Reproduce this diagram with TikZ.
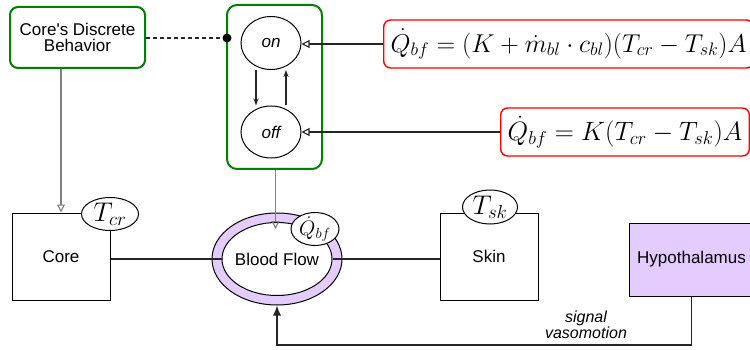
\RequirePackage{fix-cm}
\documentclass[tikz,border=0pt]{standalone}
\usepackage{fontspec}
\setmainfont{Liberation Sans}
\usetikzlibrary{arrows.meta,shapes.geometric}
\definecolor{lav}{HTML}{E5CCFF}
\definecolor{grn}{HTML}{008000}
\definecolor{rd}{HTML}{FF0000}
\definecolor{lgray}{HTML}{808080}
\begin{document}
\begin{tikzpicture}[x=1pt,y=-1pt,
  every node/.style={font=\fontsize{17}{17}\selectfont, inner sep=0pt},
  gbox/.style={draw=grn, line width=2pt, rounded corners=8pt, fill=white},
  rbox/.style={draw=rd, line width=1.4pt, rounded corners=7pt, fill=white, anchor=west, inner xsep=7pt, minimum height=48pt},
  state/.style={draw, ellipse, line width=1pt, fill=white, font=\fontsize{17}{17}\selectfont\itshape},
  plainbox/.style={draw, line width=1pt, fill=white},
  var/.style={draw, ellipse, line width=1pt, fill=white, inner sep=-3pt, font=\fontsize{27}{27}\selectfont},
  link/.style={draw=black!85, line width=1.1pt},
  glink/.style={draw=lgray, line width=1.1pt},
  opentip/.style={-{Triangle[open,length=8pt,width=8pt]}},
]
\clip (0,0) rectangle (750,350);
\fill[white] (0,0) rectangle (750,350);

% top nodes
\node[gbox, minimum width=135pt, minimum height=61pt, align=center] (cdb) at (77.5,37.5) {Core\textquotesingle s Discrete\\[-1pt]Behavior};
\node[gbox, rounded corners=10pt, minimum width=95pt, minimum height=164pt] (cont) at (274.5,87) {};
\node[state, minimum width=60pt, minimum height=53pt] (on) at (271,43) {on};
\node[state, minimum width=60pt, minimum height=52pt] (off) at (271,132) {off};
\node[rbox] (eq1) at (383,44) {\fontsize{25.8}{26}\selectfont$\dot Q_{bf} = (K + \dot m_{bl}\cdot c_{bl})(T_{cr} - T_{sk})A$};
\node[rbox] (eq2) at (500,132) {\fontsize{26.5}{27}\selectfont$\dot Q_{bf} = K(T_{cr} - T_{sk})A$};

% dashed link with dot
\coordinate (dot) at (227,38);
\draw[link, dashed, dash pattern=on 4pt off 3pt] (cdb.east |- dot) -- (dot);
\fill[black] (dot) circle (4.5pt);

% on/off transitions
\draw[link, -{Stealth[length=7pt,width=5pt]}] ([xshift=-15pt]on.south) -- ([xshift=-15pt]off.north);
\draw[link, -{Stealth[length=7pt,width=5pt]}] ([xshift=15pt]off.north) -- ([xshift=15pt]on.south);

% equations to states
\draw[link, opentip] (eq1.west) -- (eq1.west -| on.east);
\draw[link, opentip] (eq2.west) -- (eq2.west -| off.east);

% bottom row
\node[plainbox, minimum width=98pt, minimum height=87pt] (core) at (61,256.5) {Core};
\node[plainbox, minimum width=98pt, minimum height=87pt] (skin) at (489,256.5) {Skin};
\node[draw, ellipse, line width=1pt, fill=lav, minimum width=130pt, minimum height=92pt] (ring) at (277,259) {};
\node[draw, ellipse, line width=1pt, fill=white, minimum width=110pt, minimum height=73pt] (bf) at (277,259) {};
\node (bflabel) at (bf.center) {Blood Flow};
\node[plainbox, fill=lav, minimum width=125pt, minimum height=73pt] (hyp) at (691.5,259.5) {Hypothalamus};

% links
\draw[link] (bf.west -| core.east) -- (bf.west);
\draw[link] (bf.east) -- (bf.east -| skin.west);
\draw[glink, opentip] (core.north |- cdb.south) -- (core.north);
\coordinate (qin) at (275.5,229);
\draw[glink, opentip] (cont.south -| qin) -- (qin);

% variable ellipses
\node[var, minimum width=57pt, minimum height=33pt] (tcr) at (110,214) {$T_{cr}$};
\node[var, minimum width=55pt, minimum height=34pt] (tsk) at (490,207) {$T_{sk}$};
\node[var, font=\fontsize{21}{21}\selectfont, inner sep=-1pt, minimum width=48pt, minimum height=33pt] (qbf) at (315,229) {$\dot Q_{bf}$};

% vasomotion signal
\coordinate (turn) at (692,345);
\draw[link, -{Latex[length=10pt,width=8pt]}] (hyp.south) |- (ring.south |- turn) -- (ring.south);
\node[font=\fontsize{16}{16}\selectfont\itshape, align=center] (sig) at (586,325) {signal\\vasomotion};
\end{tikzpicture}
\end{document}
